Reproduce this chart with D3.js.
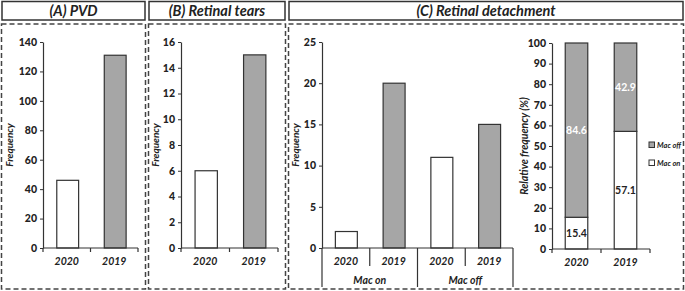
<!DOCTYPE html>
<html>
<head>
<meta charset="utf-8">
<script src="https://cdn.jsdelivr.net/npm/d3@7"></script>
<style>
  body { margin: 0; background: #fff; }
  text { font-family: Lato, "Open Sans", sans-serif; font-weight: bold; fill: #222; }
  .axis path, .axis line { stroke: #333; }
</style>
</head>
<body>
<svg id="chart" width="685" height="291"></svg>
<script>
// data
var years = ["2020", "2019"];
var pvdCounts = [46, 131];
var tearCounts = [6, 15];
var macGroups = ["Mac on", "Mac off"];
var macOnCounts = [2, 20];
var macOffCounts = [11, 15];
var macOnPct = [15.4, 57.1];
var macOffPct = [84.6, 42.9];
var panelTitles = ["(A) PVD", "(B) Retinal tears", "(C) Retinal detachment"];

var fill2020 = "#ffffff", fill2019 = "#a6a6a6";

var svg = d3.select("#chart");
svg.append("rect").attr("width", 685).attr("height", 291).attr("fill", "#fff");

// header boxes + dashed frames
var panels = [
  {x0: 2, x1: 145, title: panelTitles[0]},
  {x0: 149, x1: 285, title: panelTitles[1]},
  {x0: 289, x1: 683, title: panelTitles[2]}
];
panels.forEach(function(p) {
  svg.append("rect")
      .attr("x", p.x0).attr("y", 1.5)
      .attr("width", p.x1 - p.x0).attr("height", 18.5)
      .attr("fill", "#fff").attr("stroke", "#333").attr("stroke-width", 1.5);
  svg.append("text")
      .attr("x", (p.x0 + p.x1) / 2).attr("y", 15.5)
      .attr("text-anchor", "middle")
      .style("font-size", "14.5px").style("font-style", "italic")
      .text(p.title);
  svg.append("rect")
      .attr("x", p.x0 - 0.5).attr("y", 24)
      .attr("width", p.x1 - p.x0 + 1).attr("height", 265)
      .attr("fill", "none").attr("stroke", "#444").attr("stroke-width", 1.5)
      .attr("stroke-dasharray", "5,3");
});

function yAxis(g, y, x, ticks, label, labelX, labelSize) {
  g.append("g")
      .attr("class", "axis")
      .attr("transform", "translate(" + x + ",0)")
      .call(d3.axisLeft(y).tickValues(ticks).tickSize(3).tickSizeOuter(0))
      .call(function(a) {
        a.select(".domain").attr("stroke-width", 1.2);
        a.selectAll("text")
            .style("font-size", "10.5px")
            .style("font-family", "Lato, sans-serif")
            .style("font-weight", "900")
            .attr("fill", "#222");
      });
  var ym = (y.range()[0] + y.range()[1]) / 2;
  g.append("text")
      .attr("transform", "translate(" + labelX + "," + ym + ") rotate(-90)")
      .attr("text-anchor", "middle")
      .style("font-size", labelSize + "px").style("font-style", "italic")
      .text(label);
}

function xBase(g, x, y0) {
  var r = x.range();
  g.append("line")
      .attr("x1", r[0]).attr("x2", r[1]).attr("y1", y0).attr("y2", y0)
      .attr("stroke", "#333").attr("stroke-width", 1.2);
  var bounds = x.domain().map(function(d) { return x(d); }).concat([r[1]]);
  g.selectAll(".xt").data(bounds).enter().append("line")
      .attr("x1", function(d) { return d; }).attr("x2", function(d) { return d; })
      .attr("y1", y0).attr("y2", y0 + 4)
      .attr("stroke", "#333").attr("stroke-width", 1.2);
  g.selectAll(".xl").data(x.domain()).enter().append("text")
      .attr("x", function(d) { return x(d) + x.bandwidth() / 2; })
      .attr("y", y0 + 17)
      .attr("text-anchor", "middle")
      .style("font-size", "10.5px").style("font-style", "italic")
      .text(function(d) { return d; });
}

function simplePanel(counts, xr, maxY, step, labelX) {
  var g = svg.append("g");
  var y = d3.scaleLinear().domain([0, maxY]).range([248, 42]);
  var x = d3.scaleBand().domain(years).range(xr).paddingInner(0).paddingOuter(0);
  g.selectAll("rect.bar")
      .data(counts)
    .enter().append("rect")
      .attr("class", "bar")
      .attr("x", function(d, i) { return x(years[i]) + x.bandwidth() * 0.29; })
      .attr("width", x.bandwidth() * 0.46)
      .attr("y", function(d) { return y(d); })
      .attr("height", function(d) { return y(0) - y(d); })
      .attr("fill", function(d, i) { return i == 0 ? fill2020 : fill2019; })
      .attr("stroke", "#333").attr("stroke-width", 1.2);
  xBase(g, x, 248);
  yAxis(g, y, xr[0], d3.range(0, maxY + step, step), "Frequency", labelX, 10);
}

simplePanel(pvdCounts, [43, 138], 140, 20, 13);
simplePanel(tearCounts, [181, 278], 16, 2, 159);

// (C) left: grouped counts
var gc = svg.append("g");
var yC = d3.scaleLinear().domain([0, 25]).range([248, 42]);
var xOuter = d3.scaleBand().domain(macGroups).range([322, 513]);
var xInner = d3.scaleBand().domain(years).range([0, xOuter.bandwidth()]);
var macCounts = [macOnCounts, macOffCounts];
var flat = [];
macGroups.forEach(function(grp, gi) {
  years.forEach(function(yr, yi) { flat.push({grp: grp, yr: yr, yi: yi, v: macCounts[gi][yi]}); });
});
gc.selectAll("rect.bar")
    .data(flat)
  .enter().append("rect")
    .attr("class", "bar")
    .attr("x", function(d) { return xOuter(d.grp) + xInner(d.yr) + xInner.bandwidth() * 0.28; })
    .attr("width", xInner.bandwidth() * 0.46)
    .attr("y", function(d) { return yC(d.v); })
    .attr("height", function(d) { return yC(0) - yC(d.v); })
    .attr("fill", function(d) { return d.yi == 0 ? fill2020 : fill2019; })
    .attr("stroke", "#333").attr("stroke-width", 1.2);
gc.append("line")
    .attr("x1", 322).attr("x2", 513).attr("y1", 248).attr("y2", 248)
    .attr("stroke", "#333").attr("stroke-width", 1.2);
// group separators (long) and year separators (short)
var longB = macGroups.map(function(d) { return xOuter(d); }).concat([xOuter.range()[1]]);
gc.selectAll(".lb").data(longB).enter().append("line")
    .attr("x1", function(d) { return d; }).attr("x2", function(d) { return d; })
    .attr("y1", 248).attr("y2", 287)
    .attr("stroke", "#333").attr("stroke-width", 1.2);
gc.selectAll(".sb").data(macGroups).enter().append("line")
    .attr("x1", function(d) { return xOuter(d) + xInner(years[1]); })
    .attr("x2", function(d) { return xOuter(d) + xInner(years[1]); })
    .attr("y1", 248).attr("y2", 266)
    .attr("stroke", "#333").attr("stroke-width", 1.2);
gc.selectAll(".yl").data(flat).enter().append("text")
    .attr("x", function(d) { return xOuter(d.grp) + xInner(d.yr) + xInner.bandwidth() / 2; })
    .attr("y", 265)
    .attr("text-anchor", "middle")
    .style("font-size", "10.5px").style("font-style", "italic")
    .text(function(d) { return d.yr; });
gc.selectAll(".gl").data(macGroups).enter().append("text")
    .attr("x", function(d) { return xOuter(d) + xOuter.bandwidth() / 2; })
    .attr("y", 284)
    .attr("text-anchor", "middle")
    .style("font-size", "10.5px").style("font-style", "italic")
    .text(function(d) { return d; });
yAxis(gc, yC, 322, d3.range(0, 30, 5), "Frequency", 299, 10);

// (C) right: stacked relative frequency
var gr = svg.append("g");
var yR = d3.scaleLinear().domain([0, 100]).range([249, 43]);
var xR = d3.scaleBand().domain(years).range([552, 650]);
var stackData = years.map(function(yr, i) { return {yr: yr, on: macOnPct[i], off: macOffPct[i]}; });
var series = d3.stack().keys(["on", "off"])(stackData);
var segFill = {on: "#ffffff", off: "#a6a6a6"};
var segText = {on: "#222", off: "#fff"};
series.forEach(function(s) {
  gr.selectAll("rect.s-" + s.key)
      .data(s)
    .enter().append("rect")
      .attr("class", "s-" + s.key)
      .attr("x", function(d) { return xR(d.data.yr) + xR.bandwidth() * 0.27; })
      .attr("width", xR.bandwidth() * 0.46)
      .attr("y", function(d) { return yR(d[1]); })
      .attr("height", function(d) { return yR(d[0]) - yR(d[1]); })
      .attr("fill", segFill[s.key])
      .attr("stroke", "#333").attr("stroke-width", 1.2);
  gr.selectAll("text.t-" + s.key)
      .data(s)
    .enter().append("text")
      .attr("class", "t-" + s.key)
      .attr("x", function(d) { return xR(d.data.yr) + xR.bandwidth() * 0.5; })
      .attr("y", function(d) { return yR((d[0] + d[1]) / 2) + 3.5; })
      .attr("text-anchor", "middle")
      .style("font-size", "10.5px")
      .style("fill", segText[s.key])
      .text(function(d) { return d.data[s.key].toFixed(1); });
});
xBase(gr, xR, 249);
yAxis(gr, yR, 552, d3.range(0, 110, 10), "Relative frequency (%)", 528, 10.5);

// legend
var legend = gr.selectAll(".lg")
    .data([{k: "off", label: "Mac off"}, {k: "on", label: "Mac on"}])
  .enter().append("g")
    .attr("transform", function(d, i) { return "translate(649," + (142 + i * 18) + ")"; });
legend.append("rect")
    .attr("width", 5.5).attr("height", 5.5)
    .attr("fill", function(d) { return segFill[d.k]; })
    .attr("stroke", "#333").attr("stroke-width", 1);
legend.append("text")
    .attr("x", 8).attr("y", 5.5)
    .style("font-size", "7.5px").style("font-style", "italic")
    .text(function(d) { return d.label; });
</script>
</body>
</html>
